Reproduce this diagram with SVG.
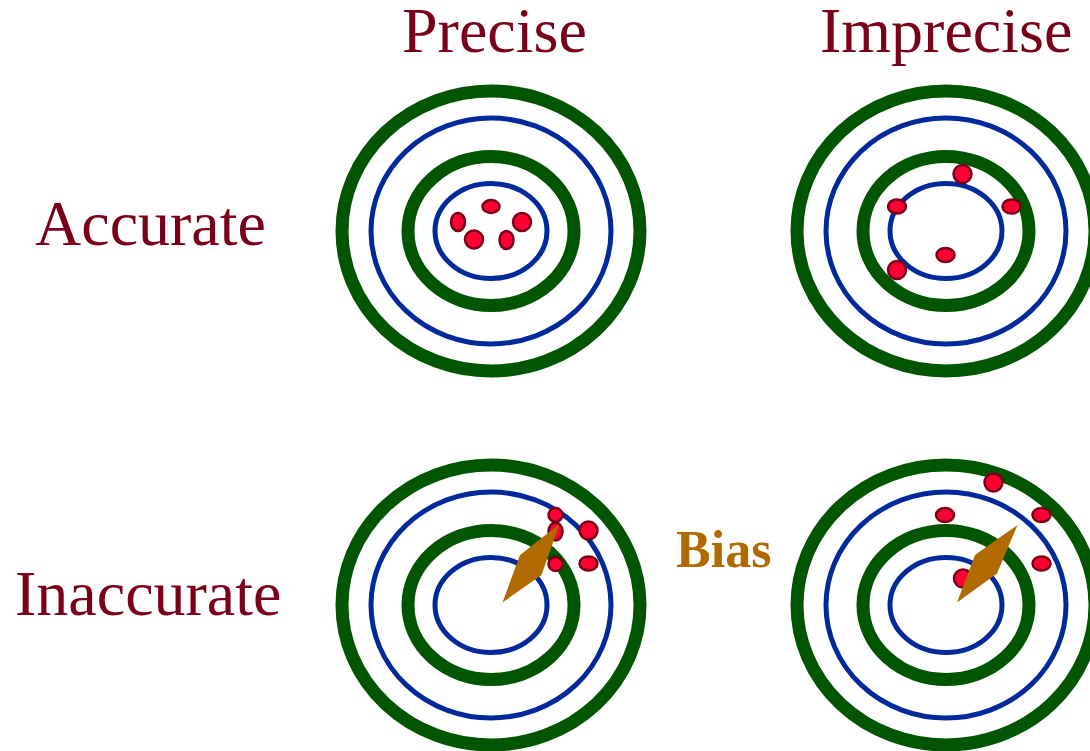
<svg xmlns="http://www.w3.org/2000/svg" width="1090" height="751" viewBox="0 0 1090 751">
<defs>
<style>
.lbl{font-family:"Liberation Serif","Times New Roman",serif;font-size:64px;fill:#7a0019}
.bias{font-family:"Liberation Serif","Times New Roman",serif;font-size:52px;font-weight:bold;fill:#b06a00}
.g{fill:none;stroke:#005500;stroke-width:13}
.b{fill:none;stroke:#002a9c;stroke-width:5}
.d{fill:#ff0033;stroke:#7a0019;stroke-width:2.5}
.arr{fill:#b06a00}
</style>
<g id="target">
<ellipse class="g" cx="0" cy="0" rx="149" ry="140"/>
<ellipse class="b" cx="0" cy="0" rx="120" ry="113"/>
<ellipse class="g" cx="0" cy="0" rx="83" ry="74.5"/>
<ellipse class="b" cx="0" cy="0" rx="56" ry="47.5"/>
</g>
</defs>
<rect width="1090" height="751" fill="#fff"/>
<g id="labels">
<text class="lbl" x="402" y="52">Precise</text>
<text class="lbl" x="820" y="52">Imprecise</text>
<text class="lbl" x="35" y="245">Accurate</text>
<text class="lbl" x="15" y="615">Inaccurate</text>
<text class="bias" x="676" y="567">Bias</text>
</g>
<g id="accurate-precise">
<use href="#target" x="491" y="231"/>
<ellipse class="d" cx="491" cy="206.5" rx="8.5" ry="6.5"/>
<ellipse class="d" cx="458" cy="222" rx="7" ry="9"/>
<ellipse class="d" cx="522" cy="222" rx="9" ry="9"/>
<ellipse class="d" cx="474" cy="239.5" rx="9" ry="9"/>
<ellipse class="d" cx="506.5" cy="240" rx="7" ry="9"/>
</g>
<g id="accurate-imprecise">
<use href="#target" x="946" y="231"/>
<ellipse class="d" cx="962.5" cy="174" rx="9" ry="9"/>
<ellipse class="d" cx="897" cy="206.5" rx="9" ry="7"/>
<ellipse class="d" cx="1011.5" cy="206.5" rx="9" ry="7"/>
<ellipse class="d" cx="945.5" cy="255" rx="9" ry="7"/>
<ellipse class="d" cx="897" cy="270" rx="9" ry="9"/>
</g>
<g id="inaccurate-precise">
<use href="#target" x="491" y="605"/>
<ellipse class="d" cx="555.5" cy="515" rx="7" ry="7"/>
<ellipse class="d" cx="555.5" cy="531.5" rx="7" ry="9"/>
<ellipse class="d" cx="588.5" cy="530.5" rx="9" ry="9"/>
<ellipse class="d" cx="555.5" cy="564" rx="7" ry="7"/>
<ellipse class="d" cx="588.5" cy="563.5" rx="9" ry="7"/>
<polygon class="arr" points="502.5,602.5 520,555 522,553.5 559.5,524 541.5,575"/>
</g>
<g id="inaccurate-imprecise">
<use href="#target" x="946" y="605"/>
<ellipse class="d" cx="993.5" cy="482.5" rx="9" ry="9"/>
<ellipse class="d" cx="945" cy="515" rx="9" ry="7"/>
<ellipse class="d" cx="1041.5" cy="515" rx="9" ry="7"/>
<ellipse class="d" cx="1041.5" cy="563.5" rx="9" ry="7"/>
<ellipse class="d" cx="963" cy="578.5" rx="9" ry="9"/>
<polygon class="arr" points="957,602.5 975,555 977,553.5 1017.5,525 997,573.5"/>
</g>
</svg>
